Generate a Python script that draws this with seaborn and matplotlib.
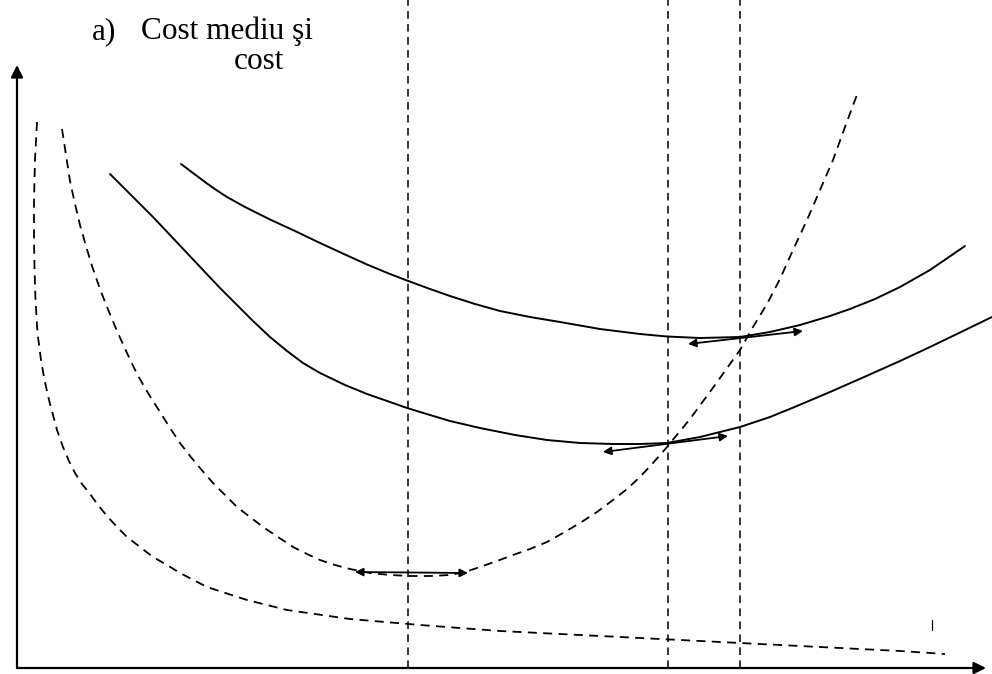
import matplotlib
matplotlib.use("Agg")
import matplotlib.pyplot as plt
import pandas as pd
import seaborn as sns

sns.set_style("white")
plt.rcParams["font.family"] = ["Liberation Serif", "DejaVu Serif"]
plt.rcParams["text.color"] = "black"

PAGE_H = 674  # cost values are measured upward from the bottom edge

# Average total cost (upper solid curve)
upper_q = [181, 195, 207, 217, 227, 245, 270, 295, 320, 345, 367, 390, 407, 430,
           450, 475, 500, 530, 560, 600, 640, 667, 700, 740, 770, 800, 830, 850,
           875, 900, 930, 965]
upper_y = [164, 174.5, 183.5, 190.5, 197, 207, 219.5, 231, 243, 254.5, 264.5, 274,
           280.5, 289, 296, 304, 311, 317, 322, 329, 334, 336.5, 338, 337, 332,
           325, 316, 309, 299, 287, 270, 246]

# Average variable cost (lower solid curve)
lower_q = [110, 130, 153, 170, 187, 203, 220, 237, 253, 270, 287, 303, 320, 345,
           367, 390, 407, 430, 450, 480, 515, 547, 580, 613, 640, 667, 700, 740,
           770, 797, 830, 863, 900, 930, 960, 992]
lower_y = [174, 194, 217, 235, 253, 270, 288, 305, 321, 337, 351, 363, 373, 385,
           394, 402, 408, 415, 421, 428, 435, 440, 443, 444, 444, 443, 437, 427,
           417, 406, 392, 377.5, 361, 347, 332.5, 317]

# Marginal cost (U-shaped dashed curve)
mc_q = [62, 66, 70, 75, 80, 86, 92, 100, 107, 117, 127, 137, 148, 160, 170, 180,
        190, 200, 213, 225, 237, 250, 263, 278, 293, 307, 320, 335, 350, 370,
        390, 410, 430, 450, 465, 480, 497, 513, 530, 547, 563, 580, 597, 613,
        627, 640, 653, 667, 690, 715, 740, 753, 767, 780, 793, 807, 820, 833,
        845, 858]
mc_y = [129, 155, 181, 204, 225, 246, 266, 289, 307, 331, 353, 374, 393, 412,
        428, 443, 456, 468, 483, 495, 507, 517, 527, 537, 547, 554, 560, 565,
        569, 573, 575, 576, 576, 575, 572, 567, 561, 555, 549, 542, 533, 523,
        512, 500, 489, 477, 463, 447, 419, 385, 350, 327, 304, 279, 250, 220,
        190, 160, 127, 92]

# Average fixed cost (hyperbola-like dashed curve)
afc_q = [37, 35, 34, 34, 34.5, 35.5, 37.5, 41, 44.5, 49, 52.5, 57, 63, 69, 75,
         82, 90, 98, 107, 117, 127, 140, 153, 167, 180, 207, 247, 287, 350, 420,
         500, 600, 700, 800, 900, 945]
afc_y = [122, 160, 200, 240, 267, 300, 333, 360, 380, 400, 413, 430, 447, 461,
         473, 484, 494, 505, 516, 527, 537, 547, 557, 565, 573, 587, 600, 610,
         619, 625, 631, 636, 641, 646, 651, 654]

# Reference quantities marked by vertical guides
guide_q = [408, 668, 740]

# Double-headed arrows: (q_start, y_start, q_end, y_end)
arrow_segments = [
    (355, 572, 468, 573),
    (603, 452, 728, 436),
    (688, 344, 803, 331),
]


def cost(ys):
    return [PAGE_H - v for v in ys]


fig = plt.figure(figsize=(9.92, 6.74), dpi=100)
ax = fig.add_axes([0, 0, 1, 1])
ax.set_xlim(0, 992)
ax.set_ylim(0, PAGE_H)
ax.axis("off")

solid = pd.concat([
    pd.DataFrame({"q": upper_q, "c": cost(upper_y), "curve": "ATC"}),
    pd.DataFrame({"q": lower_q, "c": cost(lower_y), "curve": "AVC"}),
])
sns.lineplot(data=solid, x="q", y="c", units="curve", estimator=None, sort=False,
             color="black", linewidth=1.4, ax=ax)
n_solid = len(ax.get_lines())

dashed = pd.concat([
    pd.DataFrame({"q": mc_q, "c": cost(mc_y), "curve": "MC"}),
    pd.DataFrame({"q": afc_q, "c": cost(afc_y), "curve": "AFC"}),
])
sns.lineplot(data=dashed, x="q", y="c", units="curve", estimator=None, sort=False,
             color="black", linewidth=1.3, ax=ax)
for line in ax.get_lines()[n_solid:]:
    line.set_dashes([5, 3.5])

for q in guide_q:
    ax.plot([q, q], [6, PAGE_H], color="black", linewidth=1.1, dashes=[5, 3.5])

# small tick near the right end of the quantity axis
ax.plot([932, 932], cost([620, 630]), color="black", linewidth=0.9)

for q0, y0, q1, y1 in arrow_segments:
    ax.annotate("", xy=(q1, PAGE_H - y1), xytext=(q0, PAGE_H - y0),
                arrowprops=dict(arrowstyle="<|-|>", color="black", lw=1.3,
                                mutation_scale=12, shrinkA=0, shrinkB=0))

# coordinate axes with arrowheads
ax.annotate("", xy=(17, PAGE_H - 65), xytext=(17, 6),
            arrowprops=dict(arrowstyle="-|>", color="black", lw=1.6,
                            mutation_scale=18, shrinkA=0, shrinkB=0))
ax.annotate("", xy=(986, 6), xytext=(17, 6),
            arrowprops=dict(arrowstyle="-|>", color="black", lw=1.6,
                            mutation_scale=18, shrinkA=0, shrinkB=0))

ax.text(92, PAGE_H - 39, "a)", fontsize=22.5, color="black", va="baseline", ha="left")
ax.text(141, PAGE_H - 39, "Cost mediu şi", fontsize=22.5, color="black",
        va="baseline", ha="left")
ax.text(234, PAGE_H - 69, "cost", fontsize=22.5, color="black", va="baseline", ha="left")

fig.savefig("out.png", dpi=100)
